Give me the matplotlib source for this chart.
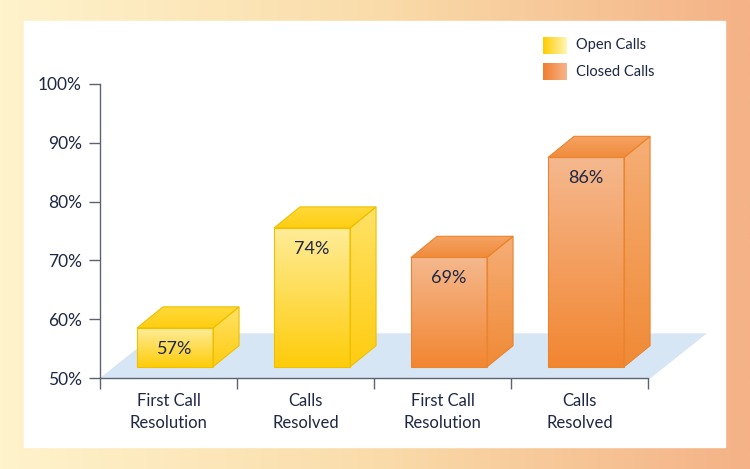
import numpy as np
import matplotlib
matplotlib.use("Agg")
import matplotlib.pyplot as plt
from matplotlib.colors import to_rgb
from matplotlib.patches import Polygon, Rectangle

# data
categories = ["First Call\nResolution", "Calls\nResolved", "First Call\nResolution", "Calls\nResolved"]
values = [57, 74, 69, 86]
groups = ["Open Calls", "Open Calls", "Closed Calls", "Closed Calls"]
y_ticks = [50, 60, 70, 80, 90, 100]

# face colours per group: (front top, front bottom, top face a, top face b, side top, side bottom, edge)
styles = {
    "Open Calls": ("#FEEC98", "#FFCC0A", "#FFDA3C", "#FFCE12", "#FFE266", "#FFCC10", "#EEC000"),
    "Closed Calls": ("#F5B88E", "#F28631", "#F5A466", "#F08C3C", "#F6AE76", "#F08A36", "#EA842E"),
}

TEXT = "#1E2743"
AXIS = "#5C6272"
FONT = "Lato"

fig = plt.figure(figsize=(7.5, 4.69), dpi=100)

# background gradient + white panel
bg = fig.add_axes([0, 0, 1, 1])
grad = np.linspace(0, 1, 256)
c0, c1, c2 = np.array(to_rgb("#FFF3CC")), np.array(to_rgb("#FADCAA")), np.array(to_rgb("#F4B286"))
row = np.where(grad[:, None] < 0.5,
               c0 + (c1 - c0) * (grad[:, None] / 0.5),
               c1 + (c2 - c1) * ((grad[:, None] - 0.5) / 0.5))
bg.imshow(row[None, :, :], extent=[0, 1, 0, 1], aspect="auto")
bg.add_patch(Rectangle((24 / 750, 1 - 447 / 469), 701 / 750, 426 / 469, color="white"))
bg.set_xlim(0, 1)
bg.set_ylim(0, 1)
bg.axis("off")

# main axes, x in category units, y in percent
px_cat = 137.0
x0, x1 = -0.5, 3.95
ax = fig.add_axes([100 / 750, 1 - 378 / 469, (x1 - x0) * px_cat / 750, 294 / 469])
ax.set_xlim(x0, x1)
ax.set_ylim(50, 100)
ax.patch.set_alpha(0)

floor_dx, floor_dy = 0.41, 7.6
ax.add_patch(Polygon([(-0.5, 50), (3.52, 50), (3.52 + floor_dx, 50 + floor_dy), (-0.5 + floor_dx, 50 + floor_dy)],
                     closed=True, facecolor="#D7E6F5", edgecolor="none", zorder=1))


def grad_face(verts, top_col, bot_col, edge, z):
    verts = np.array(verts)
    poly = Polygon(verts, closed=True, facecolor="none", edgecolor=edge, linewidth=0.8, zorder=z + 0.5)
    ax.add_patch(poly)
    t = np.linspace(0, 1, 128)[:, None]
    a, b = np.array(to_rgb(top_col)), np.array(to_rgb(bot_col))
    img = (a + (b - a) * t)[:, None, :]
    im = ax.imshow(img, extent=[verts[:, 0].min(), verts[:, 0].max(), verts[:, 1].min(), verts[:, 1].max()],
                   aspect="auto", zorder=z, interpolation="bilinear")
    im.set_clip_path(poly)


bar_w, side_dx, side_dy = 0.555, 0.19, 3.6
base = 51.9
for i, (v, g) in enumerate(zip(values, groups)):
    ft, fb, ta, tb, st, sb, edge = styles[g]
    left = i - 0.23
    right = left + bar_w
    top = v + 1.5
    z = 3 + i
    grad_face([(right, base), (right + side_dx, base + side_dy), (right + side_dx, top + side_dy), (right, top)],
              st, sb, edge, z)
    grad_face([(left, top), (right, top), (right + side_dx, top + side_dy), (left + side_dx, top + side_dy)],
              ta, tb, edge, z)
    grad_face([(left, base), (right, base), (right, top), (left, top)], ft, fb, edge, z)
    ax.text(left + bar_w / 2, top - 3.5, f"{v}%", ha="center", va="center", fontsize=13,
            color=TEXT, family=FONT, zorder=z + 1)

ax.set_xlim(x0, x1)
ax.set_ylim(50, 100)

for s in ["top", "right"]:
    ax.spines[s].set_visible(False)
for s in ["left", "bottom"]:
    ax.spines[s].set_color(AXIS)
    ax.spines[s].set_linewidth(1.0)
    ax.spines[s].set_zorder(2)
ax.spines["bottom"].set_bounds(-0.5, 3.5)

ax.set_yticks(y_ticks)
ax.set_yticklabels([f"{t}%" for t in y_ticks], fontsize=12.5, color=TEXT, family=FONT)
ax.set_xticks([-0.5, 0.5, 1.5, 2.5, 3.5])
ax.set_xticklabels([])
ax.set_xticks(range(4), minor=True)
ax.set_xticklabels(categories, minor=True, fontsize=12, color=TEXT, family=FONT, linespacing=1.45)
ax.tick_params(axis="both", which="major", direction="out", length=8, width=1.0, color=AXIS)
ax.tick_params(axis="y", pad=5)
ax.tick_params(axis="x", which="minor", length=0, pad=11)

# legend swatches
leg_colors = [("#FFCC00", "#FFF6B8"), ("#F07F2E", "#F6B48C")]
for k, (name, (ca, cb)) in enumerate(zip(["Open Calls", "Closed Calls"], leg_colors)):
    ytop = 37 + 26 * k
    sw = fig.add_axes([543 / 750, 1 - (ytop + 17) / 469, 24 / 750, 17 / 469])
    t = np.linspace(0, 1, 64)[None, :, None]
    a, b = np.array(to_rgb(ca)), np.array(to_rgb(cb))
    sw.imshow(a + (b - a) * t, aspect="auto", extent=[0, 1, 0, 1])
    sw.axis("off")
    fig.text(576 / 750, 1 - (ytop + 8.5) / 469, name, fontsize=10.5, color=TEXT, family=FONT, va="center")

fig.savefig("out.png", dpi=100)
